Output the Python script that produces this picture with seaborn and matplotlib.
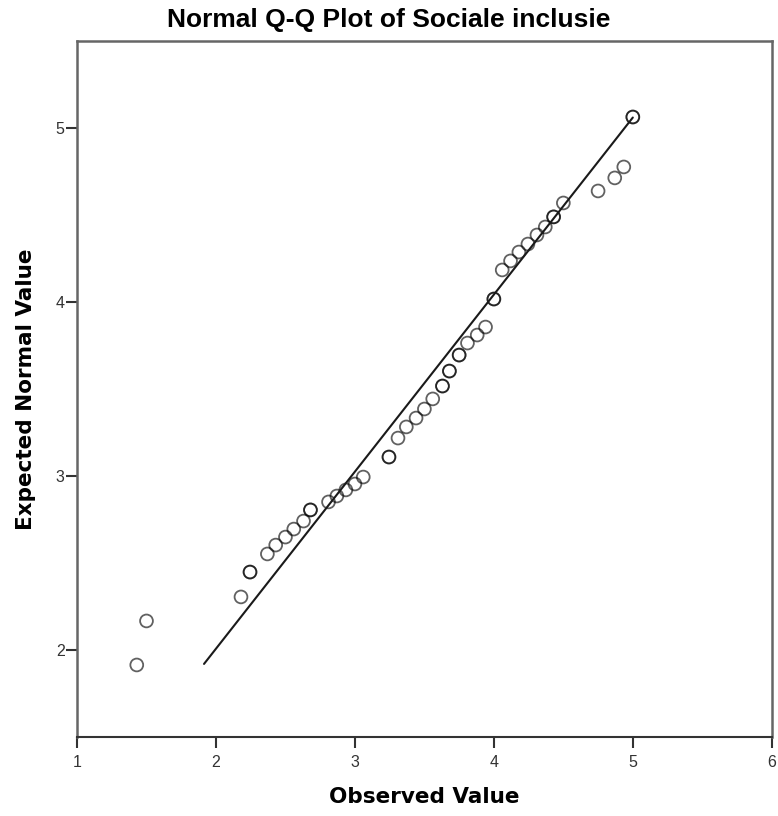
import matplotlib
matplotlib.use("Agg")
import matplotlib.pyplot as plt
import seaborn as sns
import pandas as pd

observed = [1.43, 1.50, 2.18, 2.245, 2.37, 2.43, 2.50, 2.56, 2.63, 2.68,
            2.81, 2.87, 2.935, 3.00, 3.06, 3.245, 3.31, 3.37, 3.44, 3.50,
            3.56, 3.63, 3.68, 3.75, 3.81, 3.88, 3.94, 4.00, 4.06, 4.12,
            4.18, 4.245, 4.31, 4.37, 4.43, 4.50, 4.75, 4.87, 4.935, 5.00]
expected = [1.914, 2.167, 2.305, 2.448, 2.552, 2.603, 2.649, 2.695, 2.741, 2.805,
            2.851, 2.885, 2.920, 2.954, 2.994, 3.109, 3.218, 3.282, 3.333, 3.385,
            3.443, 3.517, 3.603, 3.695, 3.764, 3.810, 3.856, 4.017, 4.184, 4.236,
            4.287, 4.333, 4.385, 4.431, 4.489, 4.569, 4.638, 4.713, 4.776, 5.063]
# tied cases (drawn twice, they look darker)
ties = [3, 9, 15, 21, 22, 23, 27, 34, 39]

# reference line endpoints
line_x = [1.914, 5.0]
line_y = [1.92, 5.06]

xticks = [1, 2, 3, 4, 5, 6]
yticks = [2, 3, 4, 5]

df = pd.DataFrame({"observed": observed, "expected": expected})
df = pd.concat([df, df.iloc[ties]], ignore_index=True)
line_df = pd.DataFrame({"x": line_x, "y": line_y})

sns.set_style("white")
plt.rcParams["font.family"] = ["Liberation Sans", "DejaVu Sans"]

fig = plt.figure(figsize=(7.78, 8.16), dpi=100)
ax = fig.add_axes([0.099, 0.0968, 0.893, 0.853])

sns.lineplot(data=line_df, x="x", y="y", color="#1a1a1a", linewidth=1.5,
             sort=False, ax=ax)
sns.scatterplot(data=df, x="observed", y="expected", s=85, marker="o",
                facecolors="none", edgecolor=(0, 0, 0, 0.62), linewidth=1.3,
                ax=ax)

ax.set_xlim(1, 6)
ax.set_ylim(1.5, 5.5)
ax.set_xticks(xticks)
ax.set_yticks(yticks)
ax.tick_params(axis="both", direction="out", length=8, width=1.5,
               color="#333333", labelsize=11.5, labelcolor="#333333",
               bottom=True, left=True)
ax.tick_params(axis="y", pad=1)
ax.tick_params(axis="x", pad=5)

for side in ["top", "right", "left"]:
    ax.spines[side].set_color("#666666")
    ax.spines[side].set_linewidth(1.8)
ax.spines["bottom"].set_color("#333333")
ax.spines["bottom"].set_linewidth(1.5)

ax.set_xlabel("Observed Value", fontsize=15.5, fontweight="bold",
              family="DejaVu Sans", color="black", labelpad=12)
ax.set_ylabel("Expected Normal Value", fontsize=15.5, fontweight="bold",
              family="DejaVu Sans", color="black", labelpad=14)
fig.suptitle("Normal Q-Q Plot of Sociale inclusie", x=0.5, y=0.99,
             fontsize=19, fontweight="bold", color="black")

fig.savefig("out.png", dpi=100)
